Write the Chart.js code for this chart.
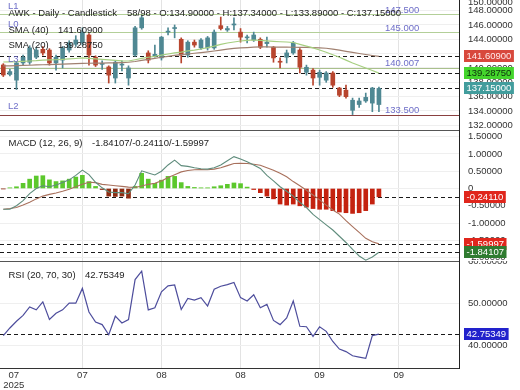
<!DOCTYPE html>
<html><head><meta charset="utf-8">
<script src="https://cdn.jsdelivr.net/npm/chart.js@4.4.1/dist/chart.umd.min.js"></script>
<style>
html,body{margin:0;padding:0;background:#fff;}
#wrap{position:relative;width:520px;height:390px;overflow:hidden;background:#fff;}
canvas{position:absolute;left:0;}
</style></head><body>
<div id="wrap">
<canvas id="c1" width="520" height="130" style="top:0px"></canvas>
<canvas id="c2" width="520" height="131" style="top:130px"></canvas>
<canvas id="c3" width="520" height="129" style="top:261px"></canvas>
</div>
<script>
// ---------- data ----------
const opens  = [140.42,139.1,138.3,140.7,140.8,141.5,142.6,142.5,140.7,141.1,142.5,143.3,143.5,144.6,141.5,140.5,140.14,138.6,140.4,138.6,141.8,145.6,142.1,141.7,141.4,145.0,145.5,144.0,141.8,143.6,142.8,142.8,142.8,145.9,145.3,146.0,145.0,144.2,143.9,144.0,143.4,142.9,140.9,141.5,142.1,142.5,139.4,139.7,138.7,138.3,139.3,137.2,136.9,134.1,134.9,135.4,135.1,134.9];
const highs  = [140.6,139.8,140.9,141.8,143.1,142.8,143.0,142.7,141.8,143.0,143.8,144.5,145.6,144.8,141.7,141.0,140.3,141.0,141.0,140.3,145.8,147.3,142.4,143.2,144.4,145.6,146.0,144.2,143.8,143.9,144.1,144.4,145.3,147.1,145.8,147.0,145.5,144.6,145.0,144.2,144.3,143.0,141.4,142.5,143.7,142.7,140.4,139.9,139.7,139.5,139.5,137.3,137.6,135.8,135.8,136.5,137.3,137.34];
const lows   = [138.8,138.9,137.0,140.4,140.5,141.3,141.8,140.4,139.7,140.0,142.2,143.0,143.2,140.4,140.2,139.8,137.9,137.9,139.6,137.6,141.6,145.4,140.7,141.5,141.1,144.6,144.2,140.7,141.5,142.9,142.6,142.5,142.6,145.3,145.1,145.3,143.6,143.5,143.7,142.7,142.9,140.8,140.0,140.7,141.9,139.3,139.0,137.6,137.6,138.0,137.3,136.0,135.8,133.5,134.5,135.2,133.9,133.89];
const closes = [139.02,139.5,140.7,141.5,142.8,142.5,142.1,140.7,141.5,142.8,143.5,143.9,145.0,141.8,140.4,140.6,139.0,140.8,140.5,140.0,145.6,147.0,141.1,141.9,144.3,145.1,145.6,141.8,143.6,143.2,143.9,144.2,145.0,145.5,145.5,146.1,144.3,144.3,144.6,142.9,143.6,141.4,140.8,142.1,143.5,140.1,140.1,138.6,139.4,139.3,137.6,136.2,136.0,135.5,135.4,135.9,137.2,137.15];
const sma20  = [140.83,140.85,140.88,140.92,140.97,141.02,141.10,141.12,141.15,141.20,141.26,141.32,141.40,141.35,141.28,141.20,141.12,141.05,140.98,140.97,141.15,141.35,141.50,141.62,141.80,141.95,142.10,142.22,142.38,142.50,142.65,142.85,143.05,143.28,143.48,143.62,143.76,143.84,143.90,143.85,143.78,143.72,143.66,143.62,143.55,143.30,143.05,142.80,142.50,142.20,141.85,141.50,141.10,140.70,140.35,140.00,139.65,139.2875];
const sma40  = [140.28,140.30,140.32,140.35,140.38,140.42,140.45,140.48,140.50,140.53,140.56,140.60,140.63,140.66,140.68,140.69,140.70,140.72,140.75,140.80,140.90,141.05,141.20,141.35,141.50,141.62,141.75,141.85,141.95,142.05,142.15,142.25,142.37,142.50,142.62,142.72,142.79,142.85,142.90,142.93,142.93,142.92,142.91,142.90,142.89,142.88,142.86,142.84,142.80,142.75,142.62,142.48,142.32,142.17,142.02,141.88,141.74,141.609];
const macdLine = [-0.60,-0.60,-0.50,-0.35,-0.15,0.00,0.08,0.05,0.10,0.17,0.25,0.38,0.53,0.40,0.18,0.02,-0.10,-0.12,-0.12,-0.15,0.10,0.51,0.45,0.39,0.50,0.68,0.82,0.66,0.64,0.60,0.57,0.56,0.60,0.68,0.80,0.92,0.85,0.77,0.68,0.58,0.38,0.22,0.05,-0.08,-0.22,-0.40,-0.55,-0.75,-0.90,-1.05,-1.20,-1.38,-1.56,-1.76,-1.95,-2.07,-1.98,-1.84107];
const signalLine = [-0.60,-0.58,-0.55,-0.48,-0.40,-0.30,-0.22,-0.17,-0.13,-0.08,-0.02,0.05,0.12,0.18,0.17,0.12,0.10,0.08,0.06,0.04,0.03,0.07,0.12,0.15,0.22,0.32,0.40,0.48,0.52,0.54,0.55,0.54,0.56,0.60,0.66,0.72,0.73,0.72,0.70,0.67,0.60,0.53,0.44,0.34,0.20,0.08,-0.05,-0.19,-0.33,-0.48,-0.62,-0.74,-0.93,-1.10,-1.27,-1.44,-1.54,-1.59997];
const macdHist = [-0.01,0.02,0.05,0.15,0.27,0.36,0.37,0.25,0.20,0.22,0.27,0.33,0.38,0.20,0.06,-0.03,-0.22,-0.23,-0.22,-0.28,0.06,0.44,0.27,0.15,0.24,0.35,0.35,0.17,0.06,0.03,0.02,0.02,0.05,0.08,0.12,0.16,0.14,0.04,-0.03,-0.12,-0.22,-0.30,-0.45,-0.48,-0.45,-0.50,-0.54,-0.58,-0.60,-0.60,-0.64,-0.68,-0.70,-0.72,-0.70,-0.64,-0.45,-0.2411];
const rsi = [42.4,44.2,45.8,47.2,49.2,48.5,50.4,46.2,47.7,48.5,50.1,50.1,53.6,48.0,45.6,45.0,42.6,47.0,45.4,46.2,55.7,57.7,48.5,49.0,52.8,54.2,54.4,48.6,51.2,50.8,51.4,49.4,53.4,54.1,54.5,55.0,51.4,50.6,52.1,49.0,49.8,46.0,45.0,46.6,50.6,44.6,44.5,42.2,44.5,43.4,41.0,39.2,38.6,37.6,37.3,37.0,42.4,42.75349];

const xTickPos = [1.6, 12, 24, 36, 48, 60];
const xTickLabels = [['07','2025'], '07', '08', '08', '09', '09'];

const levelNames  = ['L1','L0','L3','L2'];
const levelValues = [147.5, 145.0, 140.007, 133.5];
const levelLabels = ['147.500','145.000','140.007','133.500'];
const priceMarks  = [141.609, 139.2875, 137.15];
const macdMarks   = [-0.2411, -1.59997, -1.84107];
const rsiMarks    = [42.75349];

const titleMain = 'AWK - Daily - Candlestick';
const titleOHLC = '58/98 - O:134.90000 - H:137.34000 - L:133.89000 - C:137.15000';
const sma40Title = 'SMA (40)', sma20Title = 'SMA (20)';
const macdTitle = 'MACD (12, 26, 9)';
const rsiTitle = 'RSI (20, 70, 30)';

// ---------- styles ----------
const FONT = '"Liberation Sans", Arial, Helvetica, sans-serif';
const FS = 9.5;
const levelColors = ['#b3cf98','#b3cf98','#a9c08c','#8a4040'];
const levelTextColor = '#6e6ec8';
const priceBoxBg = ['#d8483c','#44d52c','#429d9d'];
const priceBoxFg = ['#ffeaea','#0d300d','#ffffff'];
const macdBoxBg = ['#e0261c','#e0261c','#2f7b30'];
const macdBoxFg = ['#ffffff','#ffffff','#ffffff'];
const rsiBoxBg = ['#2222cc'];
const rsiBoxFg = ['#ffffff'];
const UP = '#4f8893', DOWN = '#b8452e';

const XMIN = -0.5, XMAX = 69.15;
const idx = arr => arr.map((v,i)=>({x:i,y:v}));

function xScale(showLabels){
  return {
    type:'linear', min:XMIN, max:XMAX, offset:false,
    grid:{color:c => c.index===0 ? 'rgba(0,0,0,0)' : '#e3e3e3', drawTicks:false, offset:false, lineWidth:1},
    border:{display:showLabels, color:'#333', width:1},
    afterBuildTicks: s => { s.ticks = xTickPos.map(v=>({value:v})); },
    ticks:{display:showLabels, autoSkip:false, maxRotation:0, minRotation:0, padding:3, color:'#333',
      font:{family:FONT,size:FS,lineHeight:1.0}, callback:(v,i)=>xTickLabels[i]},
    afterFit: s => { s.height = showLabels ? 22 : 0; s.paddingLeft = 0; s.paddingRight = 0; }
  };
}
function yScale(min,max,step,fmt){
  return {
    position:'right', min:min, max:max,
    grid:{color:'#efefef', drawTicks:false},
    border:{display:true, color:'#222', width:1},
    ticks:{stepSize:step, padding:9, color:'#333', includeBounds:false, autoSkip:false,
      font:{family:FONT,size:FS}, callback:fmt},
    afterFit: s => { s.width = 61; s.paddingTop = 0; s.paddingBottom = 0; }
  };
}
function yPix(chart,v){ return chart.scales.y.getPixelForValue(v); }
function drawH(chart, v, color, dash, w){
  const ctx = chart.ctx, a = chart.chartArea;
  const py = Math.round(yPix(chart,v)) + 0.5;
  ctx.save(); ctx.strokeStyle = color; ctx.lineWidth = w || 1; ctx.setLineDash(dash || []);
  ctx.beginPath(); ctx.moveTo(a.left, py); ctx.lineTo(a.right, py); ctx.stroke(); ctx.restore();
}
function drawText(ctx, s, x, y, color){
  ctx.save(); ctx.font = FS + 'px ' + FONT; ctx.fillStyle = color; ctx.textAlign = 'left';
  ctx.textBaseline = 'alphabetic'; ctx.fillText(s, x, y); ctx.restore();
}
function drawBox(chart, v, s, bg, fg){
  const ctx = chart.ctx; const py = Math.round(yPix(chart,v));
  const x0 = chart.chartArea.right + 5;
  ctx.save(); ctx.font = FS + 'px ' + FONT;
  const w = ctx.measureText(s).width;
  ctx.fillStyle = bg; ctx.fillRect(x0, py - 6, w + 5, 12);
  ctx.fillStyle = fg; ctx.textAlign = 'left'; ctx.textBaseline = 'middle';
  ctx.fillText(s, x0 + 2.5, py + 0.5);
  ctx.restore();
}
function topBorder(chart){
  const ctx = chart.ctx, a = chart.chartArea;
  ctx.save(); ctx.strokeStyle = '#555'; ctx.lineWidth = 1;
  ctx.beginPath(); ctx.moveTo(a.left, 0.5); ctx.lineTo(a.right, 0.5); ctx.stroke(); ctx.restore();
}
const base = {
  responsive:false, animation:false, devicePixelRatio:1, events:[],
  layout:{padding:0},
  plugins:{legend:{display:false}, tooltip:{enabled:false}}
};
const candleColors = closes.map((c,i)=> c >= opens[i] ? UP : DOWN);
const last = closes.length - 1;

// ---------- price panel ----------
const pricePlugin = {
  id:'pricePanel',
  beforeDatasetsDraw(chart){
    levelValues.forEach((v,k)=> drawH(chart, v, levelColors[k], null, 1));
    priceMarks.forEach(v => drawH(chart, v, '#1a1a1a', [4,3], 1.2));
  },
  afterDraw(chart){
    const ctx = chart.ctx;
    levelValues.forEach((v,k)=>{
      const py = yPix(chart,v);
      drawText(ctx, levelNames[k], 8, py - 5.5, levelTextColor);
      drawText(ctx, levelLabels[k], 385, py - 1.5, levelTextColor);
    });
    drawText(ctx, titleMain, 8.5, 16, '#222');
    drawText(ctx, titleOHLC, 127, 16, '#222');
    drawText(ctx, sma40Title, 8.5, 32.5, '#222');
    drawText(ctx, sma40[last].toFixed(5), 58, 32.5, '#222');
    drawText(ctx, sma20Title, 8.5, 48, '#222');
    drawText(ctx, sma20[last].toFixed(5), 58, 48, '#222');
    drawText(ctx, '150.00000', 468, 5, '#333');
    const vals = [sma40[last], sma20[last], closes[last]];
    vals.forEach((v,k)=> drawBox(chart, v, v.toFixed(5), priceBoxBg[k], priceBoxFg[k]));
  }
};
new Chart(document.getElementById('c1'), {
  type:'bar',
  data:{datasets:[
    {type:'line', data:idx(sma20), borderColor:'#a6cf80', borderWidth:1.2, pointRadius:0, order:0},
    {type:'line', data:idx(sma40), borderColor:'#a08070', borderWidth:1.2, pointRadius:0, order:0},
    {type:'bar', data:opens.map((o,i)=>({x:i,y:[o,closes[i]]})), backgroundColor:candleColors, barThickness:4, grouped:false, order:1, minBarLength:1},
    {type:'bar', data:lows.map((l,i)=>({x:i,y:[l,highs[i]]})), backgroundColor:candleColors, barThickness:1, grouped:false, order:2}
  ]},
  options:Object.assign({}, base, {
    scales:{ x:xScale(false), y:yScale(131.35, 149.48, 2, v=>Number(v).toFixed(5)) }
  }),
  plugins:[pricePlugin]
});

// ---------- MACD panel ----------
const macdPlugin = {
  id:'macdPanel',
  beforeDatasetsDraw(chart){
    macdMarks.forEach(v => drawH(chart, v, '#1a1a1a', [4,3], 1.2));
  },
  afterDraw(chart){
    const ctx = chart.ctx;
    topBorder(chart);
    drawText(ctx, macdTitle, 8.5, 16, '#222');
    drawText(ctx, macdLine[last].toFixed(5) + '/' + macdHist[last].toFixed(5) + '/' + signalLine[last].toFixed(5), 92, 16, '#222');
    const vals = [macdHist[last], signalLine[last], macdLine[last]];
    vals.forEach((v,k)=> drawBox(chart, v, v.toFixed(5), macdBoxBg[k], macdBoxFg[k]));
  }
};
new Chart(document.getElementById('c2'), {
  type:'bar',
  data:{datasets:[
    {type:'line', data:idx(macdLine), borderColor:'#5f8c7c', borderWidth:1.1, pointRadius:0, order:0},
    {type:'line', data:idx(signalLine), borderColor:'#a8705c', borderWidth:1.1, pointRadius:0, order:0},
    {type:'bar', data:idx(macdHist), backgroundColor:macdHist.map((h,i)=> h >= 0 ? '#5cc82c' : (i < 30 ? '#8e2c12' : '#c4220f')), barThickness:4, grouped:false, order:1}
  ]},
  options:Object.assign({}, base, {
    scales:{ x:xScale(false), y:yScale(-2.095, 1.69, 0.5, v=> Math.abs(v) < 1e-9 ? '0' : Number(v).toFixed(5)) }
  }),
  plugins:[macdPlugin]
});

// ---------- RSI panel ----------
const rsiPlugin = {
  id:'rsiPanel',
  beforeDatasetsDraw(chart){
    rsiMarks.forEach(v => drawH(chart, v, '#1a1a1a', [4,3], 1.2));
  },
  afterDraw(chart){
    const ctx = chart.ctx;
    topBorder(chart);
    drawText(ctx, rsiTitle, 8.5, 16.5, '#222');
    drawText(ctx, rsi[last].toFixed(5), 85, 16.5, '#222');
    rsiMarks.forEach((v,k)=> drawBox(chart, v, v.toFixed(5), rsiBoxBg[k], rsiBoxFg[k]));
  }
};
new Chart(document.getElementById('c3'), {
  type:'line',
  data:{datasets:[
    {data:idx(rsi), borderColor:'#4d4d9c', borderWidth:1.2, pointRadius:0}
  ]},
  options:Object.assign({}, base, {
    scales:{ x:xScale(true), y:yScale(34.7, 60.1, 10, v=>Number(v).toFixed(5)) }
  }),
  plugins:[rsiPlugin]
});
</script>
</body></html>
